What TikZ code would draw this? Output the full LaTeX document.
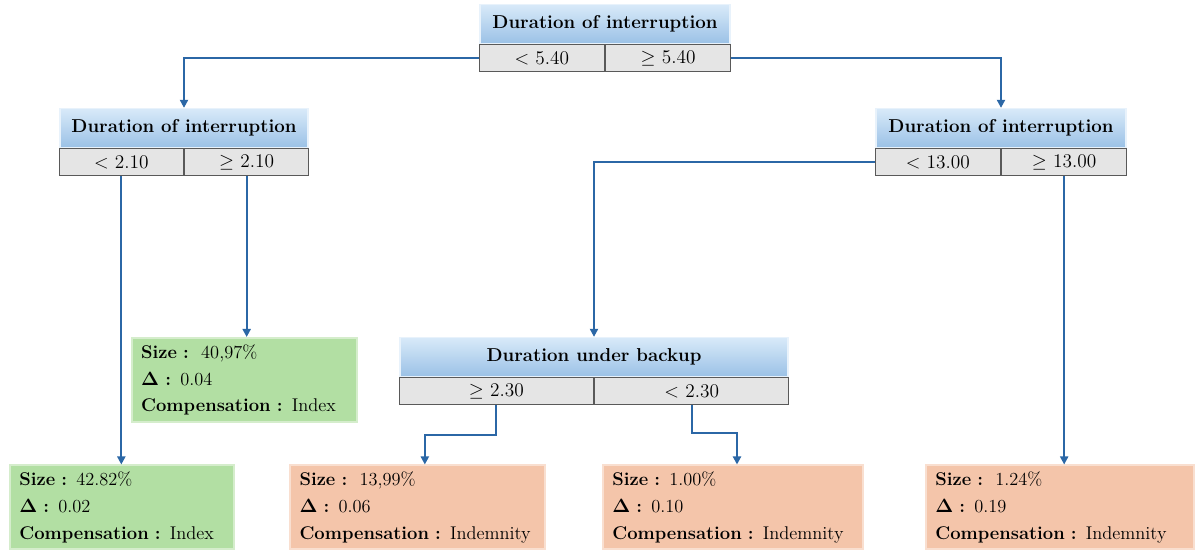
\documentclass[tikz,border=0pt]{standalone}
\usetikzlibrary{arrows.meta,positioning,calc}

\definecolor{linkblue}{RGB}{43,103,166}
\definecolor{headtop}{RGB}{216,233,249}
\definecolor{headbot}{RGB}{155,194,230}
\definecolor{splitgray}{RGB}{229,229,229}
\definecolor{leafgreen}{RGB}{178,223,163}
\definecolor{leaforange}{RGB}{244,197,170}

\tikzset{every picture/.style={line width=0.75pt}}
\tikzset{
  head/.style={draw=headtop!60!white, line width=1.2pt, top color=headtop, bottom color=headbot,
    minimum height=29pt, inner sep=0pt, font=\fontsize{14}{16}\selectfont\bfseries},
  split/.style={draw=black!65, line width=1pt, fill=splitgray, minimum height=20pt,
    inner sep=0pt, font=\fontsize{14.5}{16}\selectfont},
  leaf/.style={draw=#1!55!white, line width=1.5pt, fill=#1, minimum height=63pt,
    inner xsep=7pt, inner ysep=0pt, align=left, font=\fontsize{13.8}{20}\selectfont},
  link/.style={draw=linkblue, line width=1.5pt, -{Triangle[length=6pt,width=6pt]}}
}

\begin{document}
\begin{tikzpicture}[x=0.75pt,y=0.75pt,yscale=-1,xscale=1]
\useasboundingbox (0,0) rectangle (1196,555);

% Head Nodes
\node [head, minimum width=187.5pt] (th) at (605,24) {Duration of interruption};
\node [split, minimum width=93.75pt, anchor=north east] (tl) at (th.south) {$<$ 5.40};
\node [split, minimum width=93.75pt, anchor=north west] (tr) at (th.south) {$\geq$ 5.40};

\node [head, minimum width=186pt] (lh) at (184,128) {Duration of interruption};
\node [split, minimum width=93pt, anchor=north east] (ll) at (lh.south) {$<$ 2.10};
\node [split, minimum width=93pt, anchor=north west] (lr) at (lh.south) {$\geq$ 2.10};

\node [head, minimum width=187.5pt] (rh) at (1001,128) {Duration of interruption};
\node [split, minimum width=93.75pt, anchor=north east] (rl) at (rh.south) {$<$ 13.00};
\node [split, minimum width=93.75pt, anchor=north west] (rr) at (rh.south) {$\geq$ 13.00};

\node [head, minimum width=291pt] (mh) at (594,357) {Duration under backup};
\node [split, minimum width=145.5pt, anchor=north east] (ml) at (mh.south) {$\geq$ 2.30};
\node [split, minimum width=145.5pt, anchor=north west] (mr) at (mh.south) {$<$ 2.30};

% Leaf Nodes
\node [leaf=leafgreen, minimum width=168pt, text width=154pt] (leafA) at (122,507.5)
  {\textbf{Size :} 42.82\%\\ \textbf{$\mathbf{\Delta}$ :} 0.02\\ \textbf{Compensation :} Index};
\node [leaf=leafgreen, minimum width=169pt, text width=155pt] (leafB) at (244.5,380)
  {\textbf{Size :}~~40,97\%\\ \textbf{$\mathbf{\Delta}$ :} 0.04\\ \textbf{Compensation :} Index};
\node [leaf=leaforange, minimum width=191pt, text width=177pt] (leafC) at (417.5,507.5)
  {\textbf{Size :}~~13,99\%\\ \textbf{$\mathbf{\Delta}$ :} 0.06\\ \textbf{Compensation :} Indemnity};
\node [leaf=leaforange, minimum width=195pt, text width=181pt] (leafD) at (733,507.5)
  {\textbf{Size :} 1.00\%\\ \textbf{$\mathbf{\Delta}$ :} 0.10\\ \textbf{Compensation :} Indemnity};
\node [leaf=leaforange, minimum width=201pt, text width=187pt] (leafE) at (1060,507.5)
  {\textbf{Size :}~~1.24\%\\ \textbf{$\mathbf{\Delta}$ :} 0.19\\ \textbf{Compensation :} Indemnity};

% Links
\draw [link] (tl.west) -| (lh.north);
\draw [link] (tr.east) -| (rh.north);
\draw [link] (ll.south) -- (ll.south |- leafA.north);
\draw [link] (lr.south) -- (lr.south |- leafB.north);
\draw [link] (rl.west) -| (mh.north);
\draw [link] (rr.south) -- (rr.south |- leafE.north);
\draw [link] (ml.south) -- ++(0,30) -| ([xshift=5.5pt]leafC.north);
\draw [link] (mr.south) -- ++(0,28) -| ([xshift=3pt]leafD.north);

\end{tikzpicture}
\end{document}
